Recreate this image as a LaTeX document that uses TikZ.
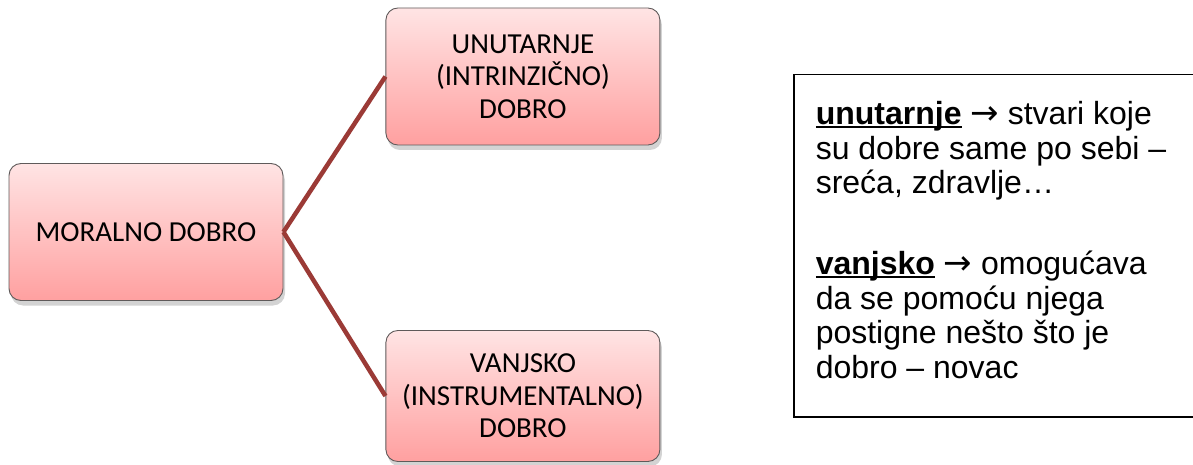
\documentclass[tikz,border=0pt]{standalone}
\usepackage{fontspec}
\setmainfont{Liberation Sans}
\newfontfamily\boxfont{Carlito}
\newfontfamily\arrowfont{DejaVu Sans}
\usetikzlibrary{positioning,shadows}
\definecolor{boxtop}{RGB}{255,228,228}
\definecolor{boxbottom}{RGB}{255,160,160}
\definecolor{boxline}{RGB}{95,90,90}
\definecolor{linkred}{RGB}{155,58,54}
\newcommand{\ulbf}[1]{\leavevmode\setbox0\hbox{\bfseries #1}\rlap{\rule[-3.5pt]{\wd0}{2.6pt}}\box0\relax}
\newcommand{\toarrow}{{\arrowfont\fontsize{34}{34.5}\selectfont →}}
\begin{document}
\begin{tikzpicture}[x=1pt,y=1pt,
    main node/.style={rectangle,rounded corners=12pt,draw=boxline,line width=0.9pt,
      top color=boxtop,bottom color=boxbottom,
      drop shadow={shadow xshift=2pt,shadow yshift=-5pt,opacity=0.35},
      minimum width=274pt,minimum height=137pt,inner sep=0pt,align=center,
      font=\boxfont\fontsize{29}{32.5}\selectfont},
    link/.style={draw=linkred,line width=4.5pt}]
    \useasboundingbox (0,0) rectangle (1193,464);

    \node[main node] (0) at (146,232) {MORALNO DOBRO};
    \node[main node] (1) [right=102pt of 0,yshift=155.5pt] {UNUTARNJE\\(INTRINZIČNO)\\DOBRO};
    \node[main node] (2) [right=102pt of 0,yshift=-164pt,minimum height=131pt] {VANJSKO\\(INSTRUMENTALNO)\\DOBRO};

    \path[link] (0.east) edge (1.west);
    \path[link] (0.east) edge (2.west);

    \node[draw,line width=1.5pt,anchor=north west,inner xsep=22pt,inner ysep=0pt,
      font=\fontsize{32}{34.5}\selectfont] (3) at (793,390)
      {\begin{minipage}[t][342pt][t]{420pt}\raggedright\parskip=46.5pt
        \vspace*{27pt}\ulbf{unutarnje} \toarrow{} stvari koje\\su dobre same po sebi –\\sreća, zdravlje…\par
        \ulbf{vanjsko} \toarrow{} omogućava\\da se pomoću njega\\postigne nešto što je\\dobro – novac\end{minipage}};
\end{tikzpicture}
\end{document}
